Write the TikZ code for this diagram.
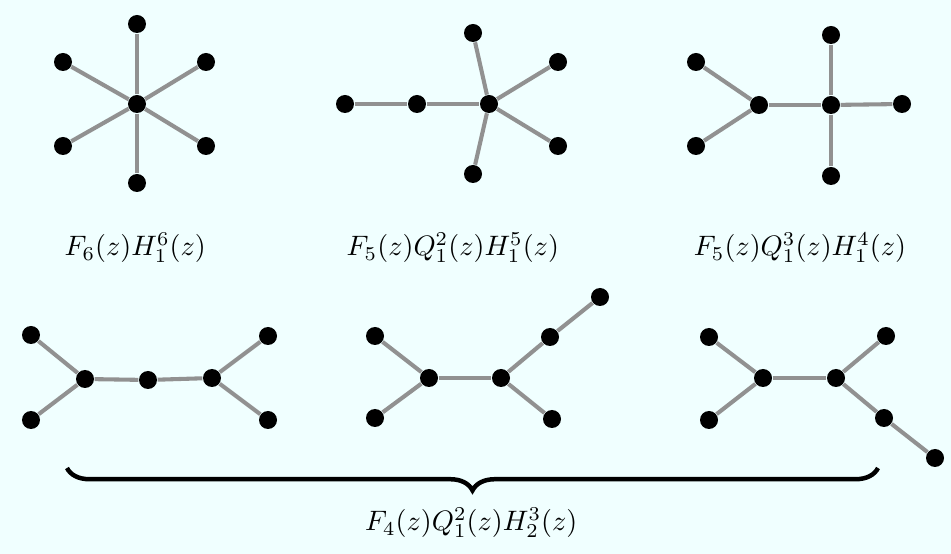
\documentclass[tikz,border=0pt]{standalone}
\usepackage{amsmath}
\usepackage{xcolor}
\usepackage{tikz}
\usetikzlibrary{decorations.pathreplacing}
\definecolor{treebg}{RGB}{240,255,255}
\definecolor{treeedge}{RGB}{145,145,145}

\begin{document}
\begin{tikzpicture}[
    dot/.style={circle, fill=black, inner sep=0pt, minimum size=0.225cm},
    edge/.style={treeedge, line width=1.45pt},
    brc/.style={decorate, decoration={brace, mirror, amplitude=0.28cm}, line width=1.6pt}
]
\fill[treebg] (0,0) rectangle (11.8875,6.925);

% F6 H1^6
\node[dot] (s) at (1.7125,5.625) {};
\node[dot] (s1) at (1.7125,6.625) {};
\node[dot] (s2) at (2.575,6.15) {};
\node[dot] (s3) at (2.575,5.1) {};
\node[dot] (s4) at (1.7125,4.6375) {};
\node[dot] (s5) at (0.7875,5.1) {};
\node[dot] (s6) at (0.7875,6.15) {};
\foreach \i in {1,...,6} \draw[edge] (s) -- (s\i);
\node (lab1) at (1.69,3.825) {$F_6(z)H_1^6(z)$};

% F5 Q1^2 H1^5
\node[dot] (pa) at (4.3125,5.625) {};
\node[dot] (pb) at (5.2125,5.625) {};
\node[dot] (p) at (6.1125,5.625) {};
\node[dot] (p1) at (5.9125,6.5125) {};
\node[dot] (p2) at (6.975,6.15) {};
\node[dot] (p3) at (6.975,5.1) {};
\node[dot] (p4) at (5.9125,4.75) {};
\draw[edge] (pa) -- (pb);
\draw[edge] (pb) -- (p);
\foreach \i in {1,...,4} \draw[edge] (p) -- (p\i);
\node (lab2) at (5.66,3.825) {$F_5(z)Q_1^2(z)H_1^5(z)$};

% F5 Q1^3 H1^4
\node[dot] (qa) at (9.4875,5.6125) {};
\node[dot] (qb) at (10.3875,5.6125) {};
\node[dot] (qa1) at (8.7,6.15) {};
\node[dot] (qa2) at (8.7,5.1) {};
\node[dot] (qb1) at (10.3875,6.4875) {};
\node[dot] (qb2) at (11.275,5.625) {};
\node[dot] (qb3) at (10.3875,4.725) {};
\draw[edge] (qa) -- (qb);
\draw[edge] (qa) -- (qa1);
\draw[edge] (qa) -- (qa2);
\foreach \i in {1,2,3} \draw[edge] (qb) -- (qb\i);
\node (lab3) at (10.0,3.825) {$F_5(z)Q_1^3(z)H_1^4(z)$};

% F4 Q1^2 H2^3, first tree
\node[dot] (ua) at (1.0625,2.1875) {};
\node[dot] (um) at (1.85,2.175) {};
\node[dot] (ub) at (2.65,2.2) {};
\node[dot] (ua1) at (0.3875,2.7375) {};
\node[dot] (ua2) at (0.3875,1.675) {};
\node[dot] (ub1) at (3.35,2.725) {};
\node[dot] (ub2) at (3.35,1.675) {};
\draw[edge] (ua) -- (um);
\draw[edge] (um) -- (ub);
\draw[edge] (ua) -- (ua1);
\draw[edge] (ua) -- (ua2);
\draw[edge] (ub) -- (ub1);
\draw[edge] (ub) -- (ub2);

% second tree
\node[dot] (va) at (5.3625,2.2) {};
\node[dot] (vb) at (6.2625,2.2) {};
\node[dot] (va1) at (4.6875,2.725) {};
\node[dot] (va2) at (4.6875,1.7) {};
\node[dot] (vm) at (6.875,2.7125) {};
\node[dot] (vt) at (7.5,3.2125) {};
\node[dot] (vb2) at (6.9,1.6875) {};
\draw[edge] (va) -- (vb);
\draw[edge] (va) -- (va1);
\draw[edge] (va) -- (va2);
\draw[edge] (vb) -- (vm);
\draw[edge] (vm) -- (vt);
\draw[edge] (vb) -- (vb2);

% third tree
\node[dot] (wa) at (9.5375,2.2) {};
\node[dot] (wb) at (10.45,2.2) {};
\node[dot] (wa1) at (8.8625,2.7125) {};
\node[dot] (wa2) at (8.8625,1.675) {};
\node[dot] (wb1) at (11.075,2.725) {};
\node[dot] (wm) at (11.05,1.7) {};
\node[dot] (we) at (11.6875,1.2) {};
\draw[edge] (wa) -- (wb);
\draw[edge] (wa) -- (wa1);
\draw[edge] (wa) -- (wa2);
\draw[edge] (wb) -- (wb1);
\draw[edge] (wb) -- (wm);
\draw[edge] (wm) -- (we);

% brace and its label
\coordinate (bl) at (0.8375,1.075);
\coordinate (br) at (10.975,1.075);
\draw[brc] (bl) -- (br);
\node (lab4) at (5.89,0.3875) {$F_4(z)Q_1^2(z)H_2^3(z)$};
\end{tikzpicture}
\end{document}
